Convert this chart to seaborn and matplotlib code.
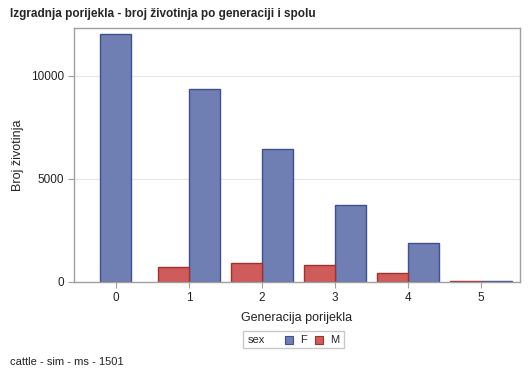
import matplotlib
matplotlib.use("Agg")
import matplotlib.pyplot as plt
from matplotlib.patches import Rectangle
import seaborn as sns
import pandas as pd

generations = [0, 1, 2, 3, 4, 5]
count_F = [12050, 9370, 6460, 3740, 1890, 45]
count_M = [None, 715, 920, 825, 440, 35]
tick_labels = ["0", "1", "2", "3", "4", "5"]

col_F, edge_F = "#6F7EB3", "#3F4F8F"
col_M, edge_M = "#D05B5B", "#A0322D"

sns.set_style("white")
plt.rcParams["font.family"] = ["Liberation Sans", "DejaVu Sans"]

# build positions: if both sexes present, M left, F right; else centered
half = 0.212
rows = []
for g, f, m in zip(generations, count_F, count_M):
    if m is None:
        rows.append(dict(pos=g, count=f, sex="F"))
    else:
        rows.append(dict(pos=g - half, count=m, sex="M"))
        rows.append(dict(pos=g + half, count=f, sex="F"))
df = pd.DataFrame(rows)

fig = plt.figure(figsize=(5.29, 3.77), dpi=100)
W, H = 529, 377
ax = fig.add_axes([74 / W, 1 - 282 / H, (520 - 74) / W, (282 - 28) / H])

sns.barplot(data=df, x="pos", y="count", hue="sex", native_scale=True,
            dodge=False, width=1.0, palette={"F": col_F, "M": col_M},
            legend=False, ax=ax, linewidth=1.0, saturation=1)
for p in ax.patches:
    fc = p.get_facecolor()
    if abs(fc[0] - 0xD0 / 255) < 0.02:
        p.set_edgecolor(edge_M)
    else:
        p.set_edgecolor(edge_F)

ax.set_xlim(-0.575, 5.535)
ax.set_ylim(0, 12330)
ax.set_xticks(generations)
ax.set_xticklabels(tick_labels)
ax.set_yticks([0, 5000, 10000])
ax.set_yticklabels(["0", "5000", "10000"])
ax.yaxis.grid(True, color="#E6E6E6", linewidth=0.8)
ax.set_axisbelow(True)
for s in ax.spines.values():
    s.set_color("#A0A0A0")
    s.set_linewidth(1.0)
ax.tick_params(axis="both", which="both", length=4, width=0.8, color="#A0A0A0",
               labelsize=8.5, labelcolor="#222222", direction="out")
ax.tick_params(axis="x", bottom=True, pad=3)
ax.tick_params(axis="y", left=True, pad=3)
ax.set_xlabel("Generacija porijekla", fontsize=9, labelpad=6, color="#222222")
ax.set_ylabel("Broj životinja", fontsize=9, labelpad=4, color="#222222")
ax.yaxis.set_label_coords(-(74 - 24) / (520 - 74), 0.5)

fig.text(10 / W, 1 - 14 / H, "Izgradnja porijekla - broj životinja po generaciji i spolu",
         fontsize=8.5, fontweight="bold", va="center", ha="left")
fig.text(10 / W, 1 - 362 / H, "cattle - sim - ms - 1501", fontsize=8, va="center", ha="left",
         color="#222222")

# legend box
fig.patches.append(Rectangle((243 / W, 1 - 348 / H), (344 - 243) / W, 17 / H,
                             transform=fig.transFigure, fill=False,
                             edgecolor="#C8C8C8", linewidth=1))
fig.text(248 / W, 1 - 340 / H, "sex", fontsize=8, va="center", ha="left")
fig.patches.append(Rectangle((285 / W, 1 - 344 / H), 8 / W, 8 / H,
                             transform=fig.transFigure, facecolor=col_F,
                             edgecolor=edge_F, linewidth=0.8))
fig.text(300 / W, 1 - 340 / H, "F", fontsize=8, va="center", ha="left")
fig.patches.append(Rectangle((315 / W, 1 - 344 / H), 8 / W, 8 / H,
                             transform=fig.transFigure, facecolor=col_M,
                             edgecolor=edge_M, linewidth=0.8))
fig.text(330 / W, 1 - 340 / H, "M", fontsize=8, va="center", ha="left")

fig.savefig("out.png", dpi=100)
